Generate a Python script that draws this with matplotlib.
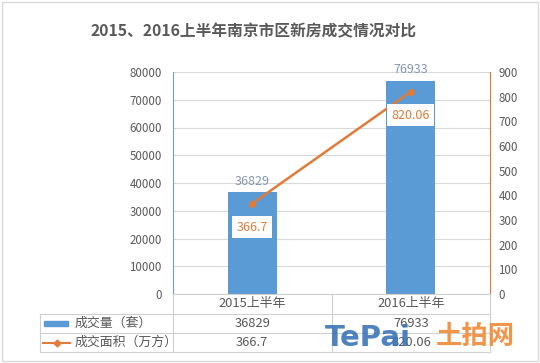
import matplotlib
matplotlib.use("Agg")
import matplotlib.pyplot as plt
from matplotlib.lines import Line2D
from matplotlib.patches import Rectangle

plt.rcParams['font.family'] = ['Noto Sans CJK SC', 'DejaVu Sans']

categories = ["2015上半年", "2016上半年"]
volume = [36829, 76933]
area = [366.7, 820.06]
series_names = ["成交量（套）", "成交面积（万方）"]
title = "2015、2016上半年南京市区新房成交情况对比"

W, H = 540, 363
fig = plt.figure(figsize=(W / 100, H / 100), dpi=100)
fig.patch.set_facecolor("white")

L, R, T, B = 173, 490, 72, 294
ax = fig.add_axes([L / W, 1 - B / H, (R - L) / W, (B - T) / H])
ax2 = ax.twinx()

blue = "#5b9bd5"
orange = "#e07b39"
gray_txt = "#595959"
grid_c = "#d9d9d9"

x = list(range(len(categories)))
ax.bar(x, volume, width=0.31, color=blue, zorder=2)
ax.set_xlim(-0.5, 1.5)
ax.set_ylim(0, 80000)
ax.set_yticks(range(0, 80001, 10000))
ax.yaxis.grid(True, color=grid_c, linewidth=0.8, zorder=0)
ax.set_axisbelow(True)
ax.set_xticks([])
for s in ["top", "right", "bottom"]:
    ax.spines[s].set_visible(False)
ax.spines["left"].set_color("#7a9bb5")
ax.tick_params(axis="y", length=0, labelsize=8.3, labelcolor=gray_txt, pad=8)

for xi, v in zip(x, volume):
    ax.annotate(f"{v}", (xi, v), xytext=(0, 3), textcoords="offset points",
                ha="center", va="bottom", fontsize=9, color="#8497b0")

ax2.plot(x, area, color=orange, linewidth=1.8, marker="o", markersize=4, zorder=3)
ax2.set_ylim(0, 900)
ax2.set_yticks(range(0, 901, 100))
for s in ["top", "left", "bottom"]:
    ax2.spines[s].set_visible(False)
ax2.spines["right"].set_color(orange)
ax2.tick_params(axis="y", length=0, labelsize=8.3, labelcolor=gray_txt, pad=6)
for xi, v in zip(x, area):
    ax2.annotate(f"{v:g}", (xi, v), xytext=(0, -17), textcoords="offset points",
                 ha="center", va="center", fontsize=9, color=orange,
                 bbox=dict(boxstyle="square,pad=0.35", fc="white", ec="none"))

fig.text(254 / W, 1 - 31 / H, title, ha="center", va="center",
         fontsize=11.3, fontweight="bold", color=gray_txt)

# data table under chart
def px_line(x0, y0, x1, y1, color="#d0d0d0", lw=0.8):
    fig.add_artist(Line2D([x0 / W, x1 / W], [1 - y0 / H, 1 - y1 / H],
                          color=color, linewidth=lw))

colx = [L, (L + R) / 2, R]
px_line(L, 294, R, 294)
px_line(40, 314, R, 314)
px_line(40, 333, R, 333)
px_line(40, 352, R, 352)
px_line(40, 314, 40, 352)
for cx in colx:
    px_line(cx, 294, cx, 352)

centers = [(L + colx[1]) / 2, (colx[1] + R) / 2]
for cxp, cat in zip(centers, categories):
    fig.text(cxp / W, 1 - 304 / H, cat, ha="center", va="center",
             fontsize=9.3, color=gray_txt)
for cxp, v in zip(centers, volume):
    fig.text(cxp / W, 1 - 323.5 / H, f"{v}", ha="center", va="center",
             fontsize=9.3, color=gray_txt)
for cxp, v in zip(centers, area):
    fig.text(cxp / W, 1 - 342.5 / H, f"{v:g}", ha="center", va="center",
             fontsize=9.3, color=gray_txt)

# legend keys in table
fig.add_artist(Rectangle((44 / W, 1 - 326 / H), 24 / W, 5 / H, color=blue,
                         transform=fig.transFigure))
fig.add_artist(Line2D([43 / W, 70 / W], [1 - 342.5 / H] * 2, color=orange,
                      linewidth=1.5, marker=None))
fig.add_artist(Line2D([56.5 / W], [1 - 342.5 / H], color=orange,
                      marker="D", markersize=3.5, linewidth=0))
fig.text(75 / W, 1 - 323.5 / H, series_names[0], ha="left", va="center",
         fontsize=9.3, color=gray_txt)
fig.text(75 / W, 1 - 342.5 / H, series_names[1], ha="left", va="center",
         fontsize=9.3, color=gray_txt)

# watermark
fig.text(325 / W, 1 - 338 / H, "TePai", ha="left", va="center", fontsize=21,
         fontweight="bold", color="#2f6db5", alpha=0.85, family="DejaVu Sans")
fig.text(436 / W, 1 - 336 / H, "土拍网", ha="left", va="center", fontsize=19,
         fontweight="bold", color="#f08a36", alpha=0.9)

# outer border
fig.add_artist(Rectangle((2 / W, 2 / H), (W - 4) / W, (H - 4) / H, fill=False,
                         ec="#d9d9d9", lw=1, transform=fig.transFigure))

fig.savefig("out.png", dpi=100)
